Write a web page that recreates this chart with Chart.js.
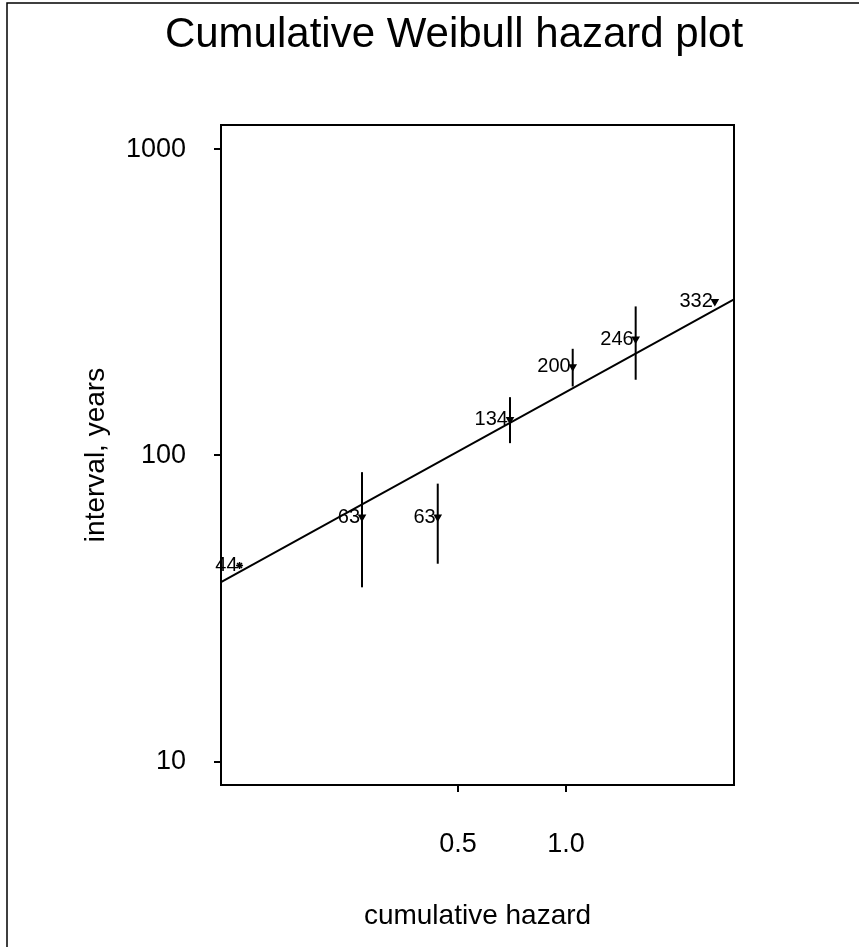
<!DOCTYPE html>
<html>
<head>
<meta charset="utf-8">
<script src="https://cdn.jsdelivr.net/npm/chart.js@4/dist/chart.umd.min.js"></script>
<style>
  body { margin: 0; background: #fff; }
</style>
</head>
<body>
<canvas id="hazard-plot" width="859" height="947"></canvas>
<script>
// data
var hazard = [0.123, 0.270, 0.439, 0.698, 1.044, 1.564, 2.60];
var interval = [43.7, 62.9, 62.9, 131, 195, 240, 318];
var pointLabels = ["44", "63", "63", "134", "200", "246", "332"];
// vertical bars (null = no bar)
var barLow = [null, 37.1, 44.3, 109.7, 168, 176.7, null];
var barHigh = [null, 88.2, 80.9, 155, 223, 306.7, null];
// fitted line ends
var fitHazard = [0.1092, 2.94];
var fitInterval = [38.6, 323.5];
// ticks
var xTicks = [0.5, 1.0];
var yTicks = [10, 100, 1000];

var titleText = "Cumulative Weibull hazard plot";
var fontFamily = '"Liberation Sans", Arial, Helvetica, sans-serif';

var pointData = hazard.map(function (h, i) {
  return { x: h, y: interval[i] };
});
var fitData = fitHazard.map(function (h, i) {
  return { x: h, y: fitInterval[i] };
});

// frame, box, bars, labels and title
var plotExtras = {
  id: "plotExtras",
  afterDraw: function (chart) {
    var ctx = chart.ctx;
    var area = chart.chartArea;
    var xs = chart.scales.x;
    var ys = chart.scales.y;
    ctx.save();
    ctx.strokeStyle = "#000";

    // outer frame (top + left only, rest is cut off)
    ctx.lineWidth = 1.5;
    ctx.beginPath();
    ctx.moveTo(7, 947);
    ctx.lineTo(7, 3);
    ctx.lineTo(859, 3);
    ctx.stroke();

    // plot box
    ctx.lineWidth = 2;
    ctx.strokeRect(area.left, area.top, area.right - area.left, area.bottom - area.top);

    // vertical bars
    ctx.lineWidth = 2;
    for (var i = 0; i < hazard.length; i++) {
      if (barLow[i] == null) continue;
      var bx = xs.getPixelForValue(hazard[i]);
      ctx.beginPath();
      ctx.moveTo(bx, ys.getPixelForValue(barHigh[i]));
      ctx.lineTo(bx, ys.getPixelForValue(barLow[i]));
      ctx.stroke();
    }

    // point labels
    ctx.fillStyle = "#000";
    ctx.font = "20px " + fontFamily;
    ctx.textAlign = "right";
    ctx.textBaseline = "middle";
    for (var j = 0; j < hazard.length; j++) {
      ctx.fillText(
        pointLabels[j],
        xs.getPixelForValue(hazard[j]) - 2,
        ys.getPixelForValue(interval[j])
      );
    }

    // title
    ctx.font = "42px " + fontFamily;
    ctx.textAlign = "center";
    ctx.textBaseline = "alphabetic";
    ctx.fillText(titleText, 454, 47);
    ctx.restore();
  },
};

var ctxHazard = document.getElementById("hazard-plot").getContext("2d");
var hazardChart = new Chart(ctxHazard, {
  type: "scatter",
  data: {
    datasets: [
      {
        label: "fit",
        data: fitData,
        showLine: true,
        borderColor: "#000",
        borderWidth: 2,
        pointRadius: 0,
        fill: false,
      },
      {
        label: "intervals",
        data: pointData,
        showLine: false,
        pointStyle: ["star", "triangle", "triangle", "triangle", "triangle", "triangle", "triangle"],
        rotation: [0, 180, 180, 180, 180, 180, 180],
        pointRadius: 3.5,
        borderWidth: 1.5,
        backgroundColor: "#000",
        borderColor: "#000",
      },
    ],
  },
  options: {
    responsive: false,
    animation: false,
    layout: {
      padding: { top: 125, left: 0, right: 125, bottom: 0 },
    },
    plugins: {
      legend: { display: false },
      tooltip: { enabled: false },
      title: { display: false },
    },
    scales: {
      x: {
        type: "logarithmic",
        position: "bottom",
        min: 0.1092,
        max: 2.94,
        afterBuildTicks: function (scale) {
          scale.ticks = xTicks.map(function (v) {
            return { value: v };
          });
        },
        afterFit: function (scale) {
          scale.height = 162;
        },
        ticks: {
          color: "#000",
          font: { family: fontFamily, size: 27 },
          padding: 36,
          maxRotation: 0,
          autoSkip: false,
          callback: function (v) {
            return Number(v).toFixed(1);
          },
        },
        grid: {
          drawOnChartArea: false,
          drawTicks: true,
          tickLength: 7,
          color: "#000",
          lineWidth: 2,
        },
        border: { display: true, color: "#000", width: 2 },
        title: {
          display: true,
          text: "cumulative hazard",
          color: "#000",
          font: { family: fontFamily, size: 28 },
          padding: { top: 0, bottom: 14 },
        },
      },
      y: {
        type: "logarithmic",
        position: "left",
        min: 8.39,
        max: 1200,
        afterBuildTicks: function (scale) {
          scale.ticks = yTicks.map(function (v) {
            return { value: v };
          });
        },
        afterFit: function (scale) {
          scale.width = 221;
        },
        ticks: {
          color: "#000",
          font: { family: fontFamily, size: 27 },
          padding: 28,
          autoSkip: false,
          callback: function (v) {
            return String(v);
          },
        },
        grid: {
          drawOnChartArea: false,
          drawTicks: true,
          tickLength: 7,
          color: "#000",
          lineWidth: 2,
        },
        border: { display: true, color: "#000", width: 2 },
        title: {
          display: true,
          text: "interval, years",
          color: "#000",
          font: { family: fontFamily, size: 28 },
          padding: { top: 79, bottom: 0 },
        },
      },
    },
  },
  plugins: [plotExtras],
});
</script>
</body>
</html>
